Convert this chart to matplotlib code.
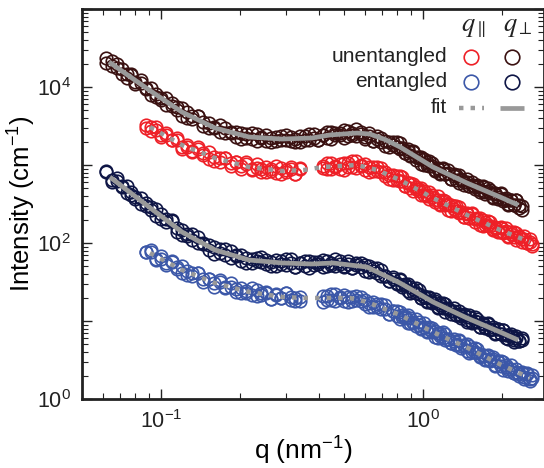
import numpy as np
import matplotlib
matplotlib.use('Agg')
import matplotlib.pyplot as plt
from matplotlib.ticker import LogLocator, FuncFormatter, NullFormatter

plt.rcParams['font.family'] = ['Liberation Sans', 'DejaVu Sans']
plt.rcParams['mathtext.fontset'] = 'custom'
plt.rcParams['mathtext.rm'] = 'Liberation Sans'
plt.rcParams['mathtext.it'] = 'Liberation Sans:italic'
plt.rcParams['mathtext.bf'] = 'Liberation Sans:bold'

nan = np.nan

# ---------------- data ----------------
# scattering vector q (nm^-1), common grid for all data sets
q = [0.062, 0.065, 0.068, 0.071, 0.074, 0.077, 0.080, 0.084, 0.088, 0.092,
     0.096, 0.100, 0.105, 0.110, 0.115, 0.120, 0.126, 0.132, 0.138, 0.145,
     0.152, 0.160, 0.168, 0.176, 0.185, 0.194, 0.203, 0.212, 0.222, 0.232,
     0.242, 0.253, 0.264, 0.276, 0.288, 0.300, 0.313, 0.326, 0.340, 0.354,
     0.368, 0.383, 0.398, 0.414, 0.430, 0.447, 0.464, 0.482, 0.500, 0.519,
     0.538, 0.558, 0.579, 0.600, 0.622, 0.645, 0.668, 0.692, 0.717, 0.743,
     0.770, 0.795, 0.815, 0.835, 0.855, 0.876, 0.897, 0.919, 0.941, 0.964,
     0.987, 1.01, 1.035, 1.06, 1.085, 1.11, 1.14, 1.165, 1.19, 1.22,
     1.25, 1.28, 1.31, 1.34, 1.37, 1.40, 1.435, 1.47, 1.505, 1.54,
     1.575, 1.61, 1.65, 1.69, 1.73, 1.77, 1.81, 1.85, 1.89, 1.935,
     1.98, 2.025, 2.07, 2.12, 2.17, 2.22, 2.27, 2.32, 2.38, 2.44,
     2.50, 2.56, 2.62]

# log10 of intensity (cm^-1); two overlapping point clouds per data set
log_I_perp_unent = [
    4.374, 4.275, 4.299, 4.165, 4.173, 4.163, 4.034, 4.054, 3.977, 3.992,
    3.871, 3.861, 3.773, 3.798, 3.705, 3.733, 3.607, 3.625, 3.623, 3.498,
    3.535, 3.469, 3.508, 3.410, 3.420, 3.362, 3.414, 3.348, 3.407, 3.313,
    3.359, 3.385, 3.291, 3.357, 3.324, 3.385, 3.307, 3.339, 3.301, 3.373,
    3.325, 3.400, 3.319, 3.379, 3.418, 3.336, 3.410, 3.384, 3.448, 3.372,
    3.406, 3.369, 3.425, 3.358, 3.411, 3.304, 3.337, 3.351, 3.244, 3.297,
    3.250, 3.295, 3.203, 3.213, 3.152, 3.201, 3.130, 3.178, 3.067, 3.096,
    3.105, 2.995, 3.043, 2.992, 3.031, 2.934, 2.946, 2.891, 2.946, 2.879,
    2.932, 2.826, 2.860, 2.874, 2.769, 2.824, 2.777, 2.820, 2.725, 2.741,
    2.687, 2.744, 2.679, 2.734, 2.630, 2.665, 2.682, 2.578, 2.635, 2.590,
    2.636, 2.542, 2.557, 2.502, 2.557, 2.492, 2.548, 2.444, 2.477,
    nan, nan, nan, nan]
log_I_perp_unent_b = [
    4.314, 4.335, 4.239, 4.225, 4.113, 4.153, 4.064, 4.084, 3.987, 3.902,
    3.911, 3.831, 3.853, 3.758, 3.745, 3.633, 3.677, 3.595, 3.633, 3.548,
    3.475, 3.489, 3.428, 3.480, 3.410, 3.422, 3.334, 3.398, 3.337, 3.403,
    3.349, 3.305, 3.351, 3.307, 3.374, 3.325, 3.357, 3.289, 3.371, 3.323,
    3.395, 3.350, 3.319, 3.379, 3.348, 3.426, 3.380, 3.414, 3.348, 3.432,
    3.386, 3.459, 3.395, 3.338, 3.371, 3.314, 3.367, 3.301, 3.314, 3.227,
    3.290, 3.225, 3.283, 3.213, 3.152, 3.181, 3.120, 3.168, 3.097, 3.106,
    3.015, 3.075, 3.003, 3.052, 2.981, 2.924, 2.956, 2.901, 2.956, 2.889,
    2.902, 2.816, 2.880, 2.814, 2.869, 2.804, 2.747, 2.780, 2.725, 2.781,
    2.717, 2.734, 2.649, 2.714, 2.650, 2.705, 2.642, 2.588, 2.625, 2.570,
    2.626, 2.562, 2.577, 2.492, 2.557, 2.492, 2.548, 2.484, 2.427,
    nan, nan, nan, nan]

log_I_par_unent = [
    nan, nan, nan, nan, nan, nan, nan, nan,
    3.474, 3.488, 3.483, 3.359, 3.389, 3.321, 3.345, 3.230, 3.230, 3.164,
    3.208, 3.130, 3.173, 3.054, 3.084, 3.095, 2.986, 3.037, 2.990, 3.033,
    2.940, 2.962, 2.915, 2.977, 2.919, 2.982, 2.884, 2.935, 2.968, 2.881, 2.954,
    nan, nan, nan, nan,
    2.963, 3.027, 2.950, 2.984, 2.947, 3.020, 2.973, 3.046, 2.960, 2.998,
    3.015, 2.912, 2.969, 2.926, 2.964, 2.862, 2.869, 2.807, 2.856, 2.791,
    2.842, 2.733, 2.764, 2.775, 2.666, 2.717, 2.668, 2.709, 2.611, 2.621,
    2.562, 2.614, 2.546, 2.597, 2.491, 2.525, 2.537, 2.429, 2.482, 2.435,
    2.478, 2.382, 2.396, 2.338, 2.390, 2.325, 2.379, 2.274, 2.310, 2.324,
    2.218, 2.272, 2.227, 2.272, 2.178, 2.194, 2.138, 2.193, 2.130, 2.188,
    2.084, 2.120, 2.137, 2.034, 2.091, 2.046, 2.092, 1.998, 2.014, 1.961]
log_I_par_unent_b = [
    nan, nan, nan, nan, nan, nan, nan, nan,
    3.514, 3.438, 3.453, 3.379, 3.409, 3.321, 3.315, 3.210, 3.260, 3.184,
    3.228, 3.150, 3.083, 3.104, 3.044, 3.095, 3.026, 3.037, 2.950, 3.013,
    2.950, 3.012, 2.955, 2.907, 2.949, 2.902, 2.964, 2.915, 2.948, 2.881, 2.964,
    nan, nan, nan, nan,
    2.983, 2.947, 3.020, 2.974, 3.007, 2.940, 3.023, 2.976, 3.050, 2.988,
    2.935, 2.972, 2.919, 2.976, 2.904, 2.912, 2.819, 2.877, 2.806, 2.861,
    2.792, 2.733, 2.764, 2.705, 2.756, 2.687, 2.698, 2.609, 2.671, 2.601,
    2.652, 2.584, 2.526, 2.557, 2.501, 2.555, 2.487, 2.499, 2.412, 2.475,
    2.408, 2.462, 2.396, 2.338, 2.370, 2.315, 2.369, 2.304, 2.320, 2.234,
    2.298, 2.232, 2.287, 2.222, 2.168, 2.204, 2.148, 2.203, 2.140, 2.158,
    2.074, 2.140, 2.077, 2.134, 2.071, 2.016, 2.052, 1.998, 2.054, 1.991]

log_I_perp_ent = [
    2.921, 2.778, 2.798, 2.719, 2.733, 2.609, 2.596, 2.501, 2.519, 2.420,
    2.442, 2.307, 2.303, 2.282, 2.143, 2.166, 2.095, 2.118, 2.003, 1.994,
    1.916, 1.945, 1.872, 1.922, 1.810, 1.840, 1.850, 1.742, 1.799, 1.763,
    1.818, 1.732, 1.756, 1.710, 1.775, 1.722, 1.790, 1.698, 1.746, 1.774,
    1.682, 1.752, 1.725, 1.788, 1.710, 1.743, 1.700, 1.764, 1.707, 1.771,
    1.675, 1.718, 1.742, 1.646, 1.701, 1.645, 1.681, 1.576, 1.581, 1.515,
    1.560, 1.488, 1.540, 1.430, 1.460, 1.470, 1.360, 1.410, 1.360, 1.400,
    1.300, 1.311, 1.250, 1.300, 1.231, 1.284, 1.175, 1.210, 1.226, 1.118,
    1.172, 1.125, 1.169, 1.073, 1.088, 1.033, 1.086, 1.019, 1.075, 0.970,
    1.006, 1.023, 0.918, 0.973, 0.929, 0.974, 0.881, 0.897, 0.844, 0.899,
    0.835, 0.891, 0.786, 0.821, 0.836, 0.731, 0.786, 0.742, 0.786,
    nan, nan, nan, nan]
log_I_perp_ent_b = [
    2.911, 2.808, 2.828, 2.729, 2.643, 2.649, 2.566, 2.581, 2.479, 2.460,
    2.342, 2.377, 2.273, 2.292, 2.193, 2.106, 2.115, 2.038, 2.073, 1.984,
    1.976, 1.865, 1.922, 1.852, 1.900, 1.830, 1.770, 1.802, 1.749, 1.813,
    1.758, 1.782, 1.706, 1.780, 1.725, 1.792, 1.740, 1.698, 1.746, 1.704,
    1.772, 1.722, 1.755, 1.688, 1.770, 1.723, 1.790, 1.734, 1.687, 1.731,
    1.685, 1.748, 1.692, 1.716, 1.631, 1.685, 1.611, 1.656, 1.581, 1.515,
    1.540, 1.478, 1.530, 1.460, 1.470, 1.380, 1.440, 1.370, 1.420, 1.350,
    1.290, 1.321, 1.260, 1.310, 1.241, 1.254, 1.165, 1.230, 1.166, 1.218,
    1.152, 1.095, 1.129, 1.073, 1.128, 1.063, 1.076, 0.989, 1.055, 0.990,
    1.046, 0.983, 0.928, 0.963, 0.909, 0.964, 0.901, 0.917, 0.834, 0.899,
    0.835, 0.891, 0.826, 0.771, 0.806, 0.751, 0.806, 0.742, 0.756,
    nan, nan, nan, nan]

log_I_par_ent = [
    nan, nan, nan, nan, nan, nan, nan, nan,
    1.888, 1.913, 1.800, 1.799, 1.721, 1.755, 1.670, 1.707, 1.588, 1.612,
    1.616, 1.498, 1.540, 1.481, 1.521, 1.423, 1.433, 1.375, 1.428, 1.361,
    1.417, 1.317, 1.358, 1.378, 1.279, 1.339, 1.299, 1.356, 1.273, 1.300, 1.258,
    nan, nan, nan, nan,
    1.325, 1.275, 1.345, 1.255, 1.305, 1.335, 1.245, 1.308, 1.266, 1.313,
    1.221, 1.235, 1.174, 1.224, 1.154, 1.203, 1.093, 1.122, 1.134, 1.029,
    1.082, 1.034, 1.076, 0.978, 0.990, 0.932, 0.984, 0.916, 0.969, 0.861,
    0.893, 0.905, 0.799, 0.851, 0.807, 0.853, 0.756, 0.770, 0.714, 0.768,
    0.703, 0.758, 0.654, 0.687, 0.701, 0.594, 0.647, 0.600, 0.644, 0.546,
    0.558, 0.501, 0.554, 0.487, 0.541, 0.435, 0.468, 0.481, 0.376, 0.432,
    0.386, 0.430, 0.335, 0.351, 0.296, 0.349, 0.283, 0.337, 0.231, 0.266]
log_I_par_ent_b = [
    nan, nan, nan, nan, nan, nan, nan, nan,
    1.888, 1.883, 1.780, 1.829, 1.741, 1.775, 1.690, 1.617, 1.638, 1.572,
    1.616, 1.538, 1.540, 1.441, 1.501, 1.433, 1.483, 1.415, 1.358, 1.391,
    1.337, 1.397, 1.338, 1.358, 1.279, 1.349, 1.289, 1.356, 1.303, 1.260, 1.308,
    nan, nan, nan, nan,
    1.245, 1.325, 1.275, 1.345, 1.295, 1.255, 1.305, 1.258, 1.316, 1.253,
    1.271, 1.185, 1.244, 1.174, 1.224, 1.153, 1.093, 1.122, 1.064, 1.119,
    1.052, 1.064, 0.976, 1.038, 0.970, 1.022, 0.954, 0.896, 0.929, 0.871,
    0.923, 0.855, 0.869, 0.781, 0.847, 0.783, 0.836, 0.770, 0.714, 0.748,
    0.693, 0.748, 0.684, 0.697, 0.611, 0.674, 0.607, 0.660, 0.594, 0.536,
    0.568, 0.511, 0.564, 0.497, 0.511, 0.425, 0.488, 0.421, 0.476, 0.412,
    0.356, 0.390, 0.335, 0.391, 0.326, 0.339, 0.253, 0.317, 0.251, 0.306]

# fit curves (q, log10 I)
fit_q_perp_unent = [0.0634, 0.0901, 0.1204, 0.161, 0.217, 0.290, 0.377, 0.442,
                    0.561, 0.628, 0.717, 0.818, 1.093, 1.474, 1.97, 2.31]
fit_logI_perp_unent = [4.321, 3.962, 3.679, 3.474, 3.359, 3.333, 3.346, 3.385,
                       3.410, 3.397, 3.327, 3.231, 2.974, 2.769, 2.590, 2.487]
fit_q_par_unent = [0.0909, 0.1204, 0.161, 0.217, 0.290, 0.352, 0.416, 0.561,
                   0.668, 0.818, 1.093, 1.474, 1.97, 2.56]
fit_logI_par_unent = [3.487, 3.256, 3.090, 2.974, 2.923, 2.936, 2.974, 3.000,
                      2.936, 2.808, 2.577, 2.359, 2.167, 2.013]
fit_q_perp_ent = [0.0639, 0.0901, 0.1204, 0.161, 0.217, 0.290, 0.377, 0.454,
                  0.612, 0.818, 1.093, 1.474, 1.97, 2.31]
fit_logI_perp_ent = [2.846, 2.462, 2.141, 1.910, 1.782, 1.744, 1.731, 1.744,
                     1.692, 1.487, 1.244, 1.038, 0.859, 0.756]
fit_q_par_ent = [0.0909, 0.1204, 0.161, 0.217, 0.290, 0.355, 0.431, 0.527,
                 0.612, 0.818, 1.093, 1.474, 1.97, 2.56]
fit_logI_par_ent = [1.872, 1.654, 1.487, 1.372, 1.308, 1.295, 1.295, 1.295,
                    1.244, 1.077, 0.859, 0.660, 0.445, 0.270]

row_labels = ['unentangled', 'entangled', 'fit']
col_labels = [r'$q_{\parallel}$', r'$q_{\perp}$']

# ---------------- styles ----------------
c_par_unent = '#ee2027'
c_perp_unent = '#3a1111'
c_par_ent = '#3b57a8'
c_perp_ent = '#0e1545'
c_fit = '#999999'
c_axis = '#222222'

fig = plt.figure(figsize=(5.44, 4.68), dpi=100)
ax = fig.add_axes([82 / 544, 69 / 468, 462 / 544, 390 / 468])
ax.set_xscale('log')
ax.set_yscale('log')

ms = 9.0
mew = 1.2
series = [(log_I_perp_unent, log_I_perp_unent_b, c_perp_unent),
          (log_I_par_unent, log_I_par_unent_b, c_par_unent),
          (log_I_perp_ent, log_I_perp_ent_b, c_perp_ent),
          (log_I_par_ent, log_I_par_ent_b, c_par_ent)]
for la, lb, col in series:
    for logI in (la, lb):
        ax.plot(q, 10 ** np.array(logI, dtype=float), ls='none', marker='o',
                ms=ms, mfc='none', mec=col, mew=mew)

solid_kw = dict(color=c_fit, lw=3.4, ls='-', solid_capstyle='butt')
dot_kw = dict(color=c_fit, lw=3.2, ls=(0, (1, 1.6)), dash_capstyle='butt')
ax.plot(fit_q_perp_unent, 10 ** np.array(fit_logI_perp_unent), **solid_kw)
ax.plot(fit_q_perp_ent, 10 ** np.array(fit_logI_perp_ent), **solid_kw)
ax.plot(fit_q_par_unent, 10 ** np.array(fit_logI_par_unent), **dot_kw)
ax.plot(fit_q_par_ent, 10 ** np.array(fit_logI_par_ent), **dot_kw)

ax.set_xlim(0.05, 2.9)
ax.set_ylim(1, 1e5)

ax.yaxis.set_major_locator(LogLocator(base=10, numticks=20))
ax.yaxis.set_minor_locator(LogLocator(base=10, subs=np.arange(2, 10), numticks=20))


def yfmt(v, pos):
    e = int(round(np.log10(v)))
    return r'$\mathregular{10^{%d}}$' % e if e % 2 == 0 else ''


def xfmt(v, pos):
    e = int(round(np.log10(v)))
    return r'$\mathregular{10^{%d}}$' % e


ax.yaxis.set_major_formatter(FuncFormatter(yfmt))
ax.yaxis.set_minor_formatter(NullFormatter())
ax.xaxis.set_major_formatter(FuncFormatter(xfmt))
ax.xaxis.set_minor_formatter(NullFormatter())

ax.tick_params(which='both', direction='in', top=True, right=True, colors=c_axis)
ax.tick_params(which='major', length=7, width=1.0, labelsize=15.5, pad=8)
ax.tick_params(which='minor', length=4, width=0.8)
for s in ax.spines.values():
    s.set_linewidth(2.0)
    s.set_color(c_axis)

ax.set_xlabel(r'q (nm$^{\mathregular{-1}}$)', fontsize=19)
ax.xaxis.set_label_coords((303 - 82) / 462, -0.093, transform=ax.transAxes)
ax.set_ylabel(r'Intensity (cm$^{\mathregular{-1}}$)', fontsize=18.5, labelpad=-1)

# ---------------- legend (table style) ----------------
def ax_xy(px, py):
    return ((px - 82) / 462, (399 - py) / 390)

for px, lab in [(461, col_labels[0]), (503, col_labels[1])]:
    x0, y0 = ax_xy(px, 31)
    ax.text(x0, y0, lab, transform=ax.transAxes, fontsize=19, math_fontfamily='stix',
            ha='left', va='baseline', color=c_axis)

rows_y = [57, 82, 108]
for lab, py in zip(row_labels, rows_y):
    x, y = ax_xy(447, py)
    ax.text(x, y, lab, transform=ax.transAxes, fontsize=15, ha='right', va='center',
            color=c_axis)

for (px, py, col) in [(471, 57, c_par_unent), (512, 57, c_perp_unent),
                      (471, 82, c_par_ent), (512, 82, c_perp_ent)]:
    x, y = ax_xy(px, py)
    ax.plot([x], [y], transform=ax.transAxes, marker='o', ms=10.5, mfc='none',
            mec=col, mew=1.2, clip_on=False)

xa, y = ax_xy(459, 108)
xb, _ = ax_xy(484, 108)
ax.plot([xa, xb], [y, y], transform=ax.transAxes, **dot_kw)
xa, _ = ax_xy(500, 108)
xb, _ = ax_xy(524, 108)
ax.plot([xa, xb], [y, y], transform=ax.transAxes, **solid_kw)

fig.savefig('out.png', dpi=100)
